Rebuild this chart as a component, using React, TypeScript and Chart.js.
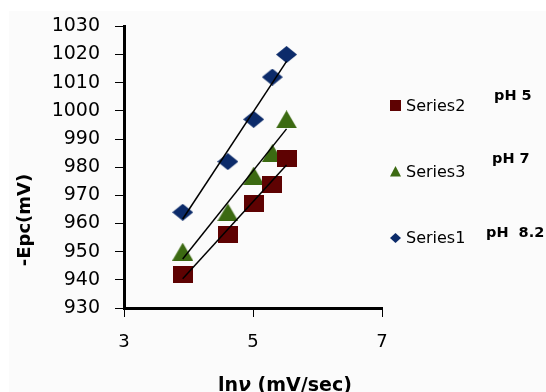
import React, { useEffect, useRef } from "react";
import { Chart, registerables } from "chart.js";
Chart.register(...registerables);

// ---- data ----
const lnV = [3.91, 4.61, 5.01, 5.3, 5.52];
const series1 = [964, 982, 997, 1012, 1020]; // pH 8.2 (diamonds)
const series2 = [942, 956, 967, 974, 983]; // pH 5 (squares)
const series3 = [950, 964, 977, 985, 997]; // pH 7 (triangles)
const trendX = [3.91, 5.52];
const trend1 = [961.6, 1017.6];
const trend2 = [940.4, 980.8];
const trend3 = [947.4, 993.6];
const legendNames = ["Series2", "Series3", "Series1"];
const phLabels = ["pH 5", "pH 7", "pH  8.2"];
const yTitle = "-Epc(mV)";
const xTitleParts = ["ln", "ν", " (mV/sec)"];

const C_SQ = "#5e0202";
const C_TRI = "#3c6a12";
const C_DIA = "#0c2b6a";

function makeMarker(shape: string, w: number, h: number, fill: string) {
  const c = document.createElement("canvas");
  c.width = w;
  c.height = h;
  const ctx = c.getContext("2d")!;
  ctx.fillStyle = fill;
  ctx.beginPath();
  if (shape === "square") {
    ctx.rect(0, 0, w, h);
  } else if (shape === "triangle") {
    ctx.moveTo(w / 2, 0);
    ctx.lineTo(w, h);
    ctx.lineTo(0, h);
    ctx.closePath();
  } else {
    ctx.moveTo(w / 2, 0);
    ctx.lineTo(w, h / 2);
    ctx.lineTo(w / 2, h);
    ctx.lineTo(0, h / 2);
    ctx.closePath();
  }
  ctx.fill();
  return c;
}

const pts = (ys: number[], xs: number[]) => xs.map((x, i) => ({ x, y: ys[i] }));

export default function App() {
  const ref = useRef<HTMLCanvasElement>(null);
  useEffect(() => {
    document.body.style.margin = "0";
    const sq = makeMarker("square", 20, 17, C_SQ);
    const tri = makeMarker("triangle", 21, 18, C_TRI);
    const dia = makeMarker("diamond", 21, 17, C_DIA);

    const decor = {
      id: "decor",
      beforeDraw(chart: any) {
        const ctx = chart.ctx;
        ctx.save();
        ctx.fillStyle = "#ffffff";
        ctx.fillRect(0, 0, chart.width, chart.height);
        ctx.fillStyle = "#fbfbfb";
        ctx.fillRect(9, 11, chart.width - 9, chart.height - 11);
        ctx.restore();
      },
      afterDraw(chart: any) {
        const ctx = chart.ctx;
        ctx.save();
        // legend
        const ys = [105.5, 171.5, 238];
        const icons = [
          () => { ctx.fillStyle = C_SQ; ctx.fillRect(390, ys[0] - 5.5, 11, 11); },
          () => {
            ctx.fillStyle = C_TRI; ctx.beginPath();
            ctx.moveTo(395.5, ys[1] - 5.5); ctx.lineTo(401, ys[1] + 5); ctx.lineTo(390, ys[1] + 5);
            ctx.closePath(); ctx.fill();
          },
          () => {
            ctx.fillStyle = C_DIA; ctx.beginPath();
            ctx.moveTo(395.5, ys[2] - 5); ctx.lineTo(401, ys[2]); ctx.lineTo(395.5, ys[2] + 5); ctx.lineTo(390, ys[2]);
            ctx.closePath(); ctx.fill();
          },
        ];
        ctx.textBaseline = "middle";
        ctx.textAlign = "left";
        for (let i = 0; i < 3; i++) {
          icons[i]();
          ctx.fillStyle = "#000";
          ctx.font = "16px 'DejaVu Sans'";
          ctx.fillText(legendNames[i], 406, ys[i] + 1);
        }
        // pH labels
        ctx.font = "bold 14.5px 'DejaVu Sans'";
        ctx.fillText(phLabels[0], 494, 96);
        ctx.fillText(phLabels[1], 492, 159);
        ctx.fillText(phLabels[2], 486, 233);
        // y title
        ctx.save();
        ctx.translate(30, 220);
        ctx.rotate(-Math.PI / 2);
        ctx.textAlign = "center";
        ctx.textBaseline = "alphabetic";
        ctx.font = "bold 18px 'DejaVu Sans'";
        ctx.fillText(yTitle, 0, 0);
        ctx.restore();
        // x title
        ctx.textBaseline = "alphabetic";
        let x = 218;
        const fonts = ["bold 19px 'DejaVu Sans'", "italic bold 19px 'DejaVu Sans'", "bold 19px 'DejaVu Sans'"];
        for (let i = 0; i < 3; i++) {
          ctx.font = fonts[i];
          ctx.fillText(xTitleParts[i], x, 391);
          x += ctx.measureText(xTitleParts[i]).width;
        }
        ctx.restore();
      },
    };

    const chart = new Chart(ref.current!, {
      type: "scatter",
      data: {
        datasets: [
          { label: "t1", data: pts(trend1, trendX), showLine: true, borderColor: "#000", borderWidth: 1.5, pointRadius: 0, order: 0 },
          { label: "t2", data: pts(trend2, trendX), showLine: true, borderColor: "#000", borderWidth: 1.5, pointRadius: 0, order: 0 },
          { label: "t3", data: pts(trend3, trendX), showLine: true, borderColor: "#000", borderWidth: 1.5, pointRadius: 0, order: 0 },
          { label: "Series2", data: pts(series2, lnV), pointStyle: sq as any, pointRadius: 5, order: 1 },
          { label: "Series3", data: pts(series3, lnV), pointStyle: tri as any, pointRadius: 5, order: 1 },
          { label: "Series1", data: pts(series1, lnV), pointStyle: dia as any, pointRadius: 5, order: 1 },
        ],
      },
      options: {
        animation: false,
        responsive: false,
        devicePixelRatio: 1,
        layout: { padding: { top: 23, right: 164, bottom: 0, left: 0 } },
        plugins: { legend: { display: false }, tooltip: { enabled: false } },
        scales: {
          x: {
            type: "linear",
            min: 3,
            max: 7,
            afterFit: (s: any) => { s.height = 84; },
            ticks: { stepSize: 2, color: "#000", font: { family: "'DejaVu Sans'", size: 18 }, padding: 15, callback: (v: any) => String(v) },
            grid: { drawOnChartArea: false, drawTicks: true, tickLength: 9, color: "#000", lineWidth: 1 },
            border: { color: "#000", width: 3 },
          },
          y: {
            type: "linear",
            min: 930,
            max: 1030,
            afterFit: (s: any) => { s.width = 124; },
            ticks: { stepSize: 10, color: "#000", font: { family: "'DejaVu Sans'", size: 19 }, padding: 15, callback: (v: any) => String(v) },
            grid: { drawOnChartArea: false, drawTicks: true, tickLength: 9, color: "#000", lineWidth: 1 },
            border: { color: "#000", width: 3 },
          },
        },
      },
      plugins: [decor],
    } as any);
    return () => chart.destroy();
  }, []);
  return (
    <div style={{ position: "absolute", left: 0, top: 0, width: 546, height: 392 }}>
      <canvas ref={ref} width={546} height={392} />
    </div>
  );
}
